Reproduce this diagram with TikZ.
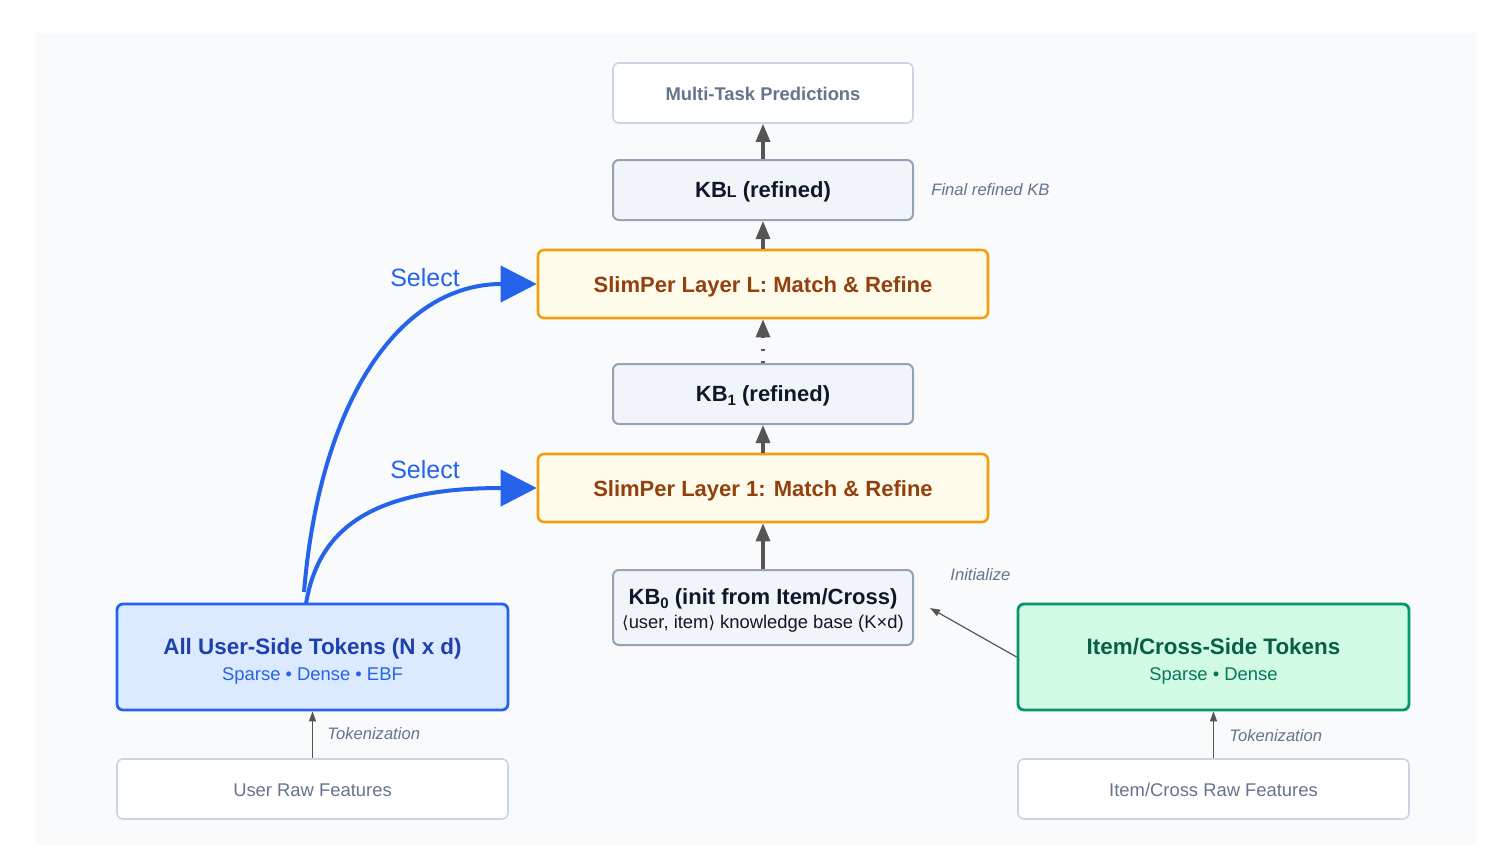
\documentclass[tikz,border=0pt]{standalone}
\usepackage{fontspec}
\setmainfont{Liberation Sans}
\newfontfamily\symfont{DejaVu Sans}
\usetikzlibrary{arrows.meta,calc}
\definecolor{bgc}{HTML}{F8FAFC}
\definecolor{lightb}{HTML}{CBD5E1}
\definecolor{slate}{HTML}{64748B}
\definecolor{kbfill}{HTML}{F1F5F9}
\definecolor{kbbord}{HTML}{94A3B8}
\definecolor{kbtext}{HTML}{0F172A}
\definecolor{layfill}{HTML}{FFFBEB}
\definecolor{laybord}{HTML}{F59E0B}
\definecolor{laytext}{HTML}{92400E}
\definecolor{ufill}{HTML}{DBEAFE}
\definecolor{ubord}{HTML}{2563EB}
\definecolor{utext}{HTML}{1E40AF}
\definecolor{ifill}{HTML}{D1FAE5}
\definecolor{ibord}{HTML}{059669}
\definecolor{itext}{HTML}{065F46}
\definecolor{isub}{HTML}{047857}
\definecolor{arr}{HTML}{555555}
\newcommand{\hstrut}[1]{\rule{0pt}{#1}}
\tikzset{
  basebox/.style={rectangle, rounded corners=3pt, inner sep=0pt, align=center},
  mtpbox/.style={basebox, draw=lightb, line width=0.8pt, fill=white, minimum width=150pt, minimum height=30pt, text=slate, font=\bfseries\fontsize{9.2}{11}\selectfont},
  kbbox/.style={basebox, draw=kbbord, line width=1pt, fill=kbfill, minimum width=150pt, minimum height=30pt, text=kbtext, font=\bfseries\fontsize{11}{13}\selectfont},
  laybox/.style={basebox, draw=laybord, line width=1.3pt, fill=layfill, minimum width=225pt, minimum height=34pt, text=laytext, font=\bfseries\fontsize{11}{13}\selectfont},
  userbox/.style={basebox, draw=ubord, line width=1.4pt, fill=ufill, minimum width=195.5pt, minimum height=53pt},
  itembox/.style={basebox, draw=ibord, line width=1.4pt, fill=ifill, minimum width=195.5pt, minimum height=53pt},
  rawbox/.style={basebox, draw=lightb, line width=0.8pt, fill=white, minimum width=195.5pt, minimum height=30pt, text=slate, font=\fontsize{9.2}{11}\selectfont},
  note/.style={text=slate, font=\itshape\fontsize{8.3}{10}\selectfont, inner sep=0pt},
  mainarr/.style={draw=arr, line width=1.6pt, -{Triangle[length=9pt,width=7pt]}},
  thinarr/.style={draw=arr, line width=0.6pt, -{Triangle[length=5pt,width=3.5pt]}},
  selarr/.style={draw=ubord, line width=2pt, -{Triangle[length=18pt,width=18pt]}},
  sellabel/.style={text=ubord, font=\fontsize{12.5}{14}\selectfont, inner sep=0pt}
}
\begin{document}
\begin{tikzpicture}[x=0.5pt,y=-0.5pt]
\useasboundingbox (0,0) rectangle (1512,852);
\fill[white] (0,0) rectangle (1512,852);
\fill[bgc] (36,33) rectangle (1476,845);

\node[mtpbox] (mtp) at (763,93) {\hstrut{7.7pt}Multi-Task Predictions};
\node[kbbox] (kbl) at (763,190) {\hstrut{10.2pt}KB{\fontsize{8}{9}\selectfont L} (refined)};
\node[note, anchor=west] (fin) at (931,190) {Final refined KB};
\node[laybox] (layl) at (763,284) {\hstrut{11pt}SlimPer Layer L: Match \& Refine};
\node[kbbox] (kb1) at (763,394) {\hstrut{10.2pt}KB\raisebox{-2pt}{\fontsize{7.5}{9}\selectfont 1} (refined)};
\node[laybox] (lay1) at (763,488) {\hstrut{11pt}SlimPer Layer 1: Match \& Refine};
\node[kbbox, minimum height=37.5pt] (kb0) at (763,607.5) {\hstrut{11.2pt}KB\raisebox{-2pt}{\fontsize{7.5}{9}\selectfont 0} (init from Item/Cross)\\[-1pt]
  {\mdseries\fontsize{9.2}{11}\selectfont{\symfont\fontsize{8.4}{10}\selectfont ⟨}user, item{\symfont\fontsize{8.4}{10}\selectfont ⟩} knowledge base (K×d)}};
\node[note, anchor=west] (init) at (950,575) {Initialize};

\node[userbox] (user) at (312.5,657) {{\color{utext}\bfseries\fontsize{11.2}{13}\selectfont\hstrut{12pt}All User-Side Tokens (N x d)}\\[1pt]
  {\color{ubord}\fontsize{9.2}{11}\selectfont Sparse • Dense • EBF}};
\node[itembox] (item) at (1213.5,657) {{\color{itext}\bfseries\fontsize{11.2}{13}\selectfont\hstrut{12pt}Item/Cross-Side Tokens}\\[1pt]
  {\color{isub}\fontsize{9.2}{11}\selectfont Sparse • Dense}};

\node[rawbox] (uraw) at (312.5,789) {\hstrut{7.6pt}User Raw Features};
\node[rawbox] (iraw) at (1213.5,789) {\hstrut{7.6pt}Item/Cross Raw Features};
\node[note, anchor=west] (tok1) at (327,734) {Tokenization};
\node[note, anchor=west] (tok2) at (1229,736) {Tokenization};

\node[sellabel] (sel2) at (425,278) {Select};
\node[sellabel] (sel1) at (425,470) {Select};

% main flow
\draw[mainarr] (kb0.north) -- (lay1.south);
\draw[mainarr] (lay1.north) -- (kb1.south);
\draw[draw=arr, line width=1.6pt, dash pattern=on 1pt off 5pt] (kb1.north) -- ($(layl.south)+(0,20)$);
\draw[mainarr] ($(layl.south)+(0,19)$) -- (layl.south);
\draw[mainarr] (layl.north) -- (kbl.south);
\draw[mainarr] (kbl.north) -- (mtp.south);

% tokenization
\draw[thinarr] (uraw.north) -- (user.south);
\draw[thinarr] (iraw.north) -- (item.south);

% initialize
\coordinate (initend) at (930,608);
\draw[thinarr] (item.west) -- (initend);

% select curves
\coordinate (s1) at (306,604);
\coordinate (s2) at (304,592);
\draw[selarr] (s1) .. controls (318,530) and (370,488) .. (lay1.west);
\draw[selarr] (s2) .. controls (320,400) and (400,284) .. (layl.west);
\end{tikzpicture}
\end{document}
